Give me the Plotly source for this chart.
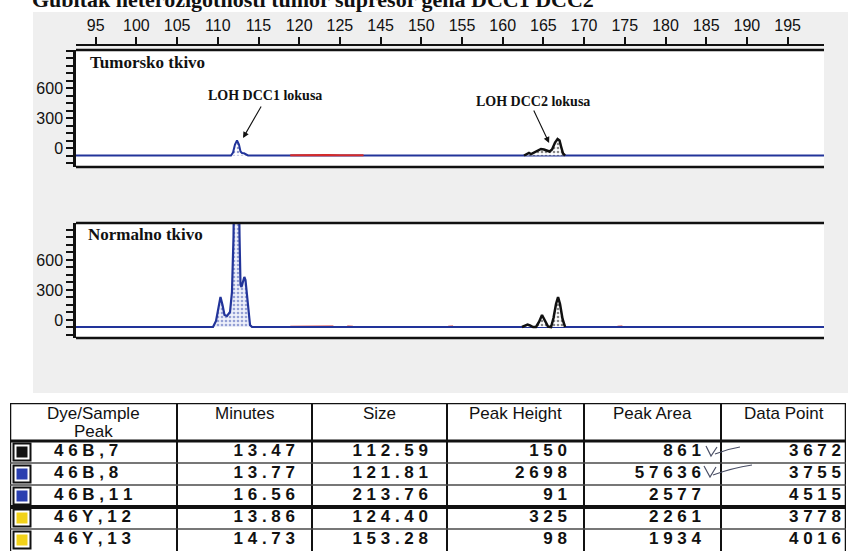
import plotly.graph_objects as go

W, H = 848, 551

# ---------------------------------------------------------------------------
# Size scale printed above the electropherograms (the run scale skips 125 -> 145)
size_labels = [95, 100, 105, 110, 115, 120, 125, 145, 150, 155, 160, 165,
               170, 175, 180, 185, 190, 195]

# Electropherogram traces, x in scan position (one tick every 5 units)
# Tumour tissue, blue dye (DCC1 locus)
tumor_blue_x = [92.5, 111.62, 111.87, 112.11, 112.36, 112.60, 112.79, 112.97,
                113.22, 113.46, 113.71, 184.5]
tumor_blue_y = [0, 0, 30, 110, 150, 110, 40, 25, 22, 10, 0, 0]

# Tumour tissue, black dye (DCC2 locus)
tumor_black_x = [147.62, 147.99, 148.23, 148.48, 148.84, 149.21, 149.70, 150.07,
                 150.44, 150.75, 151.06, 151.43, 151.74, 151.98, 152.17, 152.41,
                 152.66]
tumor_black_y = [0, 20, 25, 15, 30, 50, 65, 60, 45, 40, 60, 130, 165, 150, 90,
                 20, 0]

# Tumour tissue, red dye noise on the baseline
tumor_red_x = [118.9, 120.5, 122.0, 123.5, 125.0, 126.5, 127.9]
tumor_red_y = [3, 5, 2, 6, 3, 5, 2]

# Normal tissue, blue dye (DCC1 locus)
normal_blue_x = [92.5, 109.41, 109.78, 110.09, 110.33, 110.58, 110.82, 111.13,
                 111.50, 111.74, 111.93, 112.11, 112.30, 112.48, 112.67, 112.79,
                 112.91, 113.10, 113.26, 113.40, 113.59, 113.77, 113.96, 114.20,
                 184.5]
normal_blue_y = [0, 0, 60, 200, 300, 220, 120, 110, 150, 350, 900, 2200, 2698,
                 2000, 900, 420, 400, 470, 500, 470, 300, 120, 20, 0, 0]

# Normal tissue, black dye (DCC2 locus)
normal_black_x = [147.37, 147.74, 148.05, 148.35, 148.72, 149.09, 149.46, 149.83,
                  150.20, 150.57, 150.94, 151.24, 151.55, 151.80, 152.04, 152.35,
                  152.66]
normal_black_y = [0, 15, 25, 15, 0, 0, 50, 120, 60, 5, 0, 90, 230, 300, 230, 80, 0]

# Normal tissue, red dye noise on the baseline
normal_red_x = [118.9, 120.5, 122.0, 124.2, None, 125.9, 126.6, None,
                138.3, 138.9, None, 159.1, 159.7]
normal_red_y = [3, 5, 3, 4, None, 4, 3, None, 3, 4, None, 3, 4]

# Peak table
table_headers = ["Dye/Sample<br>Peak", "Minutes", "Size", "Peak Height",
                 "Peak Area", "Data Point"]
dye_peaks = ["46B,7", "46B,8", "46B,11", "46Y,12", "46Y,13"]
dye_colors = ["#111111", "#2a3fb0", "#2a3fb0", "#f2d21a", "#f2d21a"]
minutes = [13.47, 13.77, 16.56, 13.86, 14.73]
sizes = [112.59, 121.81, 213.76, 124.40, 153.28]
peak_height = [150, 2698, 91, 325, 98]
peak_area = [861, 57636, 2577, 2261, 1934]
data_point = [3672, 3755, 4515, 3778, 4016]

title_text = "Gubitak heterozigotnosti tumor supresor gena DCC1 DCC2"

# ---------------------------------------------------------------------------
BLUE = "#22349a"
INK = "#111111"
SANS = "Liberation Sans, Arial, sans-serif"
SERIF = "Liberation Serif, Times New Roman, serif"


def px_y(py):
    """Paper fraction for a pixel row measured from the top."""
    return 1 - py / H


def spaced(s):
    return " ".join(str(s))


tick_pos = [95 + 5 * i for i in range(len(size_labels))]
x_range = [92.58, 184.47]

fig = go.Figure()

# --- tumour panel
fig.add_trace(go.Scatter(x=tumor_blue_x, y=tumor_blue_y, mode="lines",
                         line=dict(color=BLUE, width=2), fill="tozeroy",
                         fillpattern=dict(shape=".", fgcolor=BLUE, bgcolor="white",
                                          size=4, solidity=0.3),
                         xaxis="x", yaxis="y", hoverinfo="skip"))
fig.add_trace(go.Scatter(x=tumor_red_x, y=tumor_red_y, mode="lines",
                         line=dict(color="#d42a2a", width=2),
                         xaxis="x", yaxis="y", hoverinfo="skip"))
fig.add_trace(go.Scatter(x=tumor_black_x, y=tumor_black_y, mode="lines",
                         line=dict(color=INK, width=2.5), fill="tozeroy",
                         fillpattern=dict(shape=".", fgcolor=INK, bgcolor="white",
                                          size=4, solidity=0.35),
                         xaxis="x", yaxis="y", hoverinfo="skip"))

# --- normal tissue panel
fig.add_trace(go.Scatter(x=normal_red_x, y=normal_red_y, mode="lines",
                         line=dict(color="#d42a2a", width=2),
                         xaxis="x2", yaxis="y2", hoverinfo="skip"))
fig.add_trace(go.Scatter(x=normal_blue_x, y=normal_blue_y, mode="lines",
                         line=dict(color=BLUE, width=2.2), fill="tozeroy",
                         fillpattern=dict(shape=".", fgcolor="#3b4fb0", bgcolor="#eef0fa",
                                          size=4, solidity=0.35),
                         xaxis="x2", yaxis="y2", hoverinfo="skip"))
fig.add_trace(go.Scatter(x=normal_black_x, y=normal_black_y, mode="lines",
                         line=dict(color=INK, width=2.5), fill="tozeroy",
                         fillpattern=dict(shape=".", fgcolor=INK, bgcolor="white",
                                          size=4, solidity=0.35),
                         xaxis="x2", yaxis="y2", hoverinfo="skip"))

# --- peak table, laid out on its own axes: x in column units, y in rows
col_edges = [0, 167, 302, 437, 574, 711, 836]
header_rows = 38 / 22          # header is taller than a body row
rows = list(range(len(dye_peaks)))
y_top = -0.5 - header_rows
y_bottom = len(rows) - 0.5
num_font = dict(family=SANS, size=17, color=INK, weight="bold")

body_columns = [
    ([spaced(f"{v:.2f}") for v in minutes], 285),
    ([spaced(f"{v:.2f}") for v in sizes], 418),
    ([spaced(v) for v in peak_height], 557),
    ([spaced(v) for v in peak_area], 691),
    ([spaced(v) for v in data_point], 831),
]
fig.add_trace(go.Scatter(x=[44] * len(rows), y=rows, mode="text",
                         text=[spaced(v) for v in dye_peaks],
                         textposition="middle right", textfont=num_font,
                         cliponaxis=False, xaxis="x3", yaxis="y3", hoverinfo="skip"))
for texts, right in body_columns:
    fig.add_trace(go.Scatter(x=[right] * len(rows), y=rows, mode="text", text=texts,
                             textposition="middle left", textfont=num_font,
                             cliponaxis=False, xaxis="x3", yaxis="y3",
                             hoverinfo="skip"))

# dye colour boxes in the first column
fig.add_trace(go.Scatter(x=[12] * len(rows), y=rows, mode="markers",
                         marker=dict(symbol="square", size=17, color="white",
                                     line=dict(color=INK, width=2)),
                         cliponaxis=False, xaxis="x3", yaxis="y3", hoverinfo="skip"))
fig.add_trace(go.Scatter(x=[12] * len(rows), y=rows, mode="markers",
                         marker=dict(symbol="square", size=11, color=dye_colors,
                                     line=dict(width=0)),
                         cliponaxis=False, xaxis="x3", yaxis="y3", hoverinfo="skip"))

# ---------------------------------------------------------------------------
yaxis_common = dict(
    tickvals=[0, 300, 600, 900], ticktext=["0", "300", "600", ""],
    ticks="outside", ticklen=7, tickwidth=2, tickcolor=INK,
    minor=dict(dtick=75, tick0=0, ticks="outside", ticklen=7, tickwidth=1.5,
               tickcolor=INK),
    ticklabelshift=-7,
    tickfont=dict(family=SANS, size=16, color=INK),
    showline=True, linewidth=2.5, linecolor=INK,
    showgrid=False, zeroline=False, fixedrange=True,
)

fig.update_layout(
    width=W, height=H, autosize=False,
    margin=dict(l=0, r=0, t=0, b=0, pad=0),
    paper_bgcolor="white", plot_bgcolor="rgba(0,0,0,0)",
    showlegend=False,
    xaxis=dict(domain=[76 / W, 824 / W], range=x_range, anchor="free",
               position=px_y(45), side="top",
               tickvals=tick_pos, ticktext=[str(v) for v in size_labels],
               ticks="outside", ticklen=7, tickwidth=1.5, tickcolor=INK,
               tickfont=dict(family=SANS, size=16, color=INK),
               showline=True, linewidth=2, linecolor=INK,
               showgrid=False, zeroline=False, fixedrange=True),
    xaxis2=dict(domain=[76 / W, 824 / W], range=x_range, matches="x",
                anchor="y2", visible=False, fixedrange=True),
    yaxis=dict(domain=[px_y(167), px_y(50)], range=[-115, 1055], anchor="x",
               **yaxis_common),
    yaxis2=dict(domain=[px_y(338), px_y(223)], range=[-110, 1040], anchor="x2",
                **yaxis_common),
    xaxis3=dict(domain=[10 / W, 846 / W], range=[0, col_edges[-1]], anchor="y3",
                visible=False, fixedrange=True),
    yaxis3=dict(domain=[0, px_y(403)], range=[y_bottom, y_top], anchor="x3",
                visible=False, fixedrange=True),
)

shapes = [
    # scanned page tone behind the electropherograms
    dict(type="rect", xref="paper", yref="paper", x0=33 / W, x1=1,
         y0=px_y(393), y1=px_y(12), fillcolor="#efefef", line=dict(width=0),
         layer="below"),
]
for xd, yd in (("x domain", "y domain"), ("x2 domain", "y2 domain")):
    shapes.append(dict(type="rect", xref=xd, yref=yd, x0=0, x1=1, y0=0, y1=1,
                       fillcolor="white", line=dict(width=0), layer="below"))
    for yv in (0, 1):
        shapes.append(dict(type="line", xref=xd, yref=yd, x0=0, x1=1, y0=yv, y1=yv,
                           line=dict(color=INK, width=2.5)))

# table grid
for i, xe in enumerate(col_edges):
    shapes.append(dict(type="line", xref="x3", yref="y3", x0=xe, x1=xe,
                       y0=y_top, y1=y_bottom + 0.5,
                       line=dict(color=INK, width=2.5 if i in (0, len(col_edges) - 1) else 2)))
shapes.append(dict(type="line", xref="x3", yref="y3", x0=0, x1=col_edges[-1],
                   y0=y_top, y1=y_top, line=dict(color=INK, width=2.5)))
shapes.append(dict(type="line", xref="x3", yref="y3", x0=0, x1=col_edges[-1],
                   y0=-0.5, y1=-0.5, line=dict(color=INK, width=3)))
for r in rows[:-1]:
    heavy = dye_peaks[r][:3] != dye_peaks[r + 1][:3]   # B dye -> Y dye
    shapes.append(dict(type="line", xref="x3", yref="y3", x0=0, x1=col_edges[-1],
                       y0=r + 0.5, y1=r + 0.5,
                       line=dict(color=INK if heavy else "#4a4a4a",
                                 width=4 if heavy else 1.3)))
# handwritten tick marks beside the peak areas
shapes += [
    dict(type="path", xref="paper", yref="paper",
         path=f"M {706/W} {px_y(446)} L {711/W} {px_y(456)} L {717/W} {px_y(447)} "
              f"M {715/W} {px_y(454)} Q {727/W} {px_y(449)} {740/W} {px_y(447)}",
         line=dict(color="#4a4f66", width=1.2)),
    dict(type="path", xref="paper", yref="paper",
         path=f"M {704/W} {px_y(466)} L {710/W} {px_y(477)} L {716/W} {px_y(467)} "
              f"M {713/W} {px_y(475)} Q {732/W} {px_y(468)} {752/W} {px_y(465)}",
         line=dict(color="#4a4f66", width=1.2)),
]
fig.update_layout(shapes=shapes)

head_font = dict(family=SANS, size=17, color=INK)
centers = [(a + b) / 2 for a, b in zip(col_edges[:-1], col_edges[1:])]
annotations = []
for c, label in zip(centers, table_headers):
    for k, part in enumerate(label.split("<br>")):
        annotations.append(dict(text=part, xref="x3", yref="y3", x=c,
                                y=-0.5 - 28 / 22 + k * 18 / 22, showarrow=False,
                                xanchor="center", yanchor="middle", font=head_font))

annotations += [
    dict(text=title_text, xref="paper", yref="paper", x=30 / W, y=1,
         xanchor="left", yanchor="middle", yshift=1, showarrow=False,
         font=dict(family=SERIF, size=22, color=INK, weight="bold")),
    dict(text="Tumorsko tkivo", xref="x domain", yref="y domain", x=0.016, y=0.889,
         xanchor="left", yanchor="middle", showarrow=False,
         font=dict(family=SERIF, size=17, color=INK, weight="bold")),
    dict(text="Normalno tkivo", xref="x2 domain", yref="y2 domain", x=0.013, y=0.896,
         xanchor="left", yanchor="middle", showarrow=False,
         font=dict(family=SERIF, size=17, color=INK, weight="bold")),
    dict(text="LOH DCC1 lokusa", xref="x", yref="y", x=115.8, y=605,
         showarrow=False,
         font=dict(family=SERIF, size=14, color=INK, weight="bold")),
    dict(text="", xref="x", yref="y", x=113.10, y=175, axref="x", ayref="y",
         ax=115.43, ay=505, showarrow=True, arrowhead=2, arrowsize=1.1,
         arrowwidth=1.1, arrowcolor=INK),
    dict(text="LOH DCC2 lokusa", xref="x", yref="y", x=148.73, y=545,
         showarrow=False,
         font=dict(family=SERIF, size=14, color=INK, weight="bold")),
    dict(text="", xref="x", yref="y", x=150.70, y=125, axref="x", ayref="y",
         ax=148.73, ay=465, showarrow=True, arrowhead=2, arrowsize=1.1,
         arrowwidth=1.1, arrowcolor=INK),
]
fig.update_layout(annotations=annotations)

fig.write_html("out.html")
